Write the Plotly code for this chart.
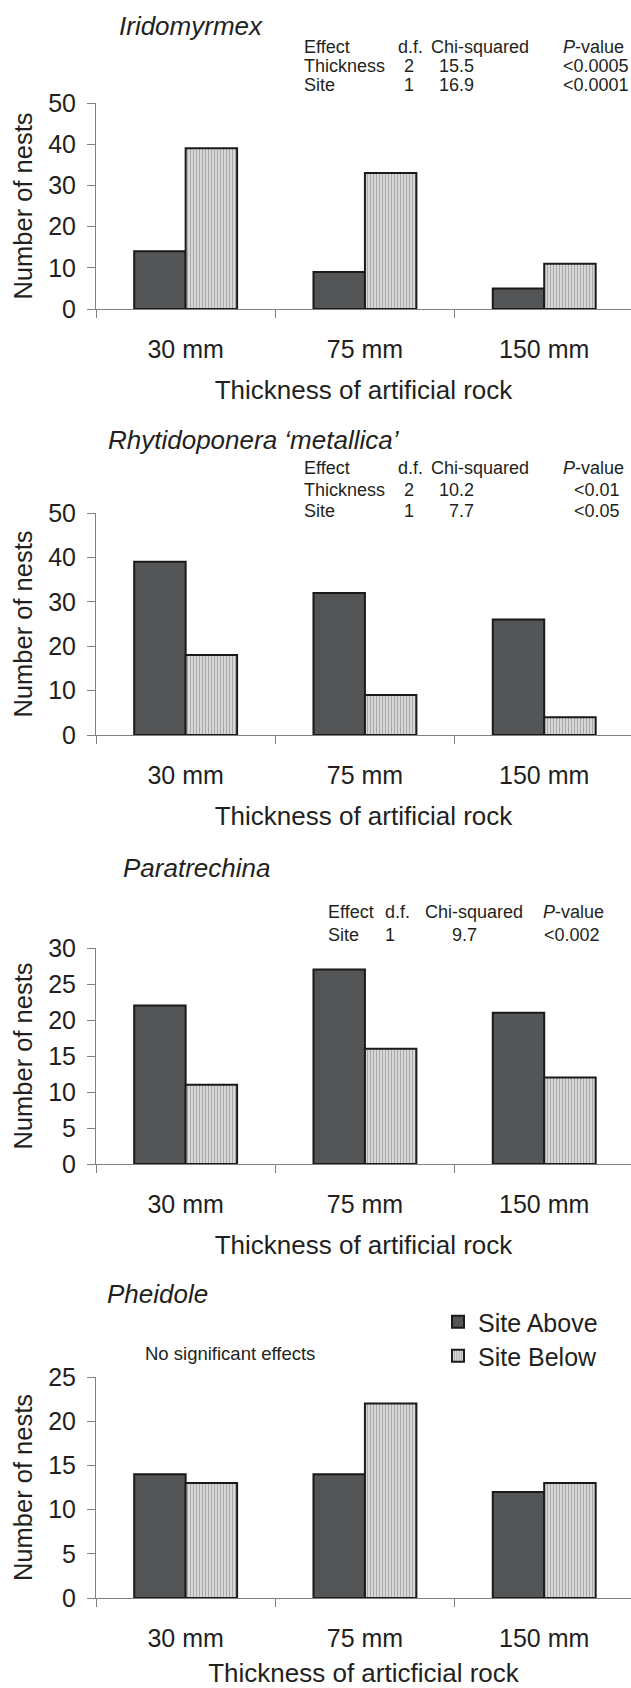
import plotly.graph_objects as go

W, H = 631, 1688

# ---------------- data ----------------
categories = ["30 mm", "75 mm", "150 mm"]

iridomyrmex_above = [14, 9, 5]
iridomyrmex_below = [39, 33, 11]
rhytidoponera_above = [39, 32, 26]
rhytidoponera_below = [18, 9, 4]
paratrechina_above = [22, 27, 21]
paratrechina_below = [11, 16, 12]
pheidole_above = [14, 14, 12]
pheidole_below = [13, 22, 13]

species = ["Iridomyrmex", "Rhytidoponera \u2018metallica\u2019", "Paratrechina", "Pheidole"]
y_max = [50, 50, 30, 25]
y_dtick = [10, 10, 5, 5]
x_titles = ["Thickness of artificial rock", "Thickness of artificial rock",
            "Thickness of artificial rock", "Thickness of articficial rock"]
series_names = ["Site Above", "Site Below"]

stats_header = ["Effect", "d.f.", "Chi-squared", "<i>P</i>-value"]
stats_iridomyrmex = [["Thickness", "2", "15.5", "&lt;0.0005"],
                     ["Site", "1", "16.9", "&lt;0.0001"]]
stats_rhytidoponera = [["Thickness", "2", "10.2", "&lt;0.01"],
                       ["Site", "1", "7.7", "&lt;0.05"]]
stats_paratrechina = [["Site", "1", "9.7", "&lt;0.002"]]
no_effects_note = "No significant effects"

panels = [
    (iridomyrmex_above, iridomyrmex_below),
    (rhytidoponera_above, rhytidoponera_below),
    (paratrechina_above, paratrechina_below),
    (pheidole_above, pheidole_below),
]

# ---------------- layout helpers (pixels) ----------------
FONT = "Liberation Sans, Arial, sans-serif"
TXT = "#231f20"
AXC = "#808080"

def px_x(x):
    return x / W

def px_y(y):
    return 1 - y / H

plot_left = 96
plot_tops = [103, 513, 948, 1377]
plot_bottoms = [309, 735, 1164, 1598]
title_pos = [(117, 26), (106, 440), (121, 868), (105, 1294)]

fig = go.Figure()

for i, (above, below) in enumerate(panels):
    ax = "" if i == 0 else str(i + 1)
    fig.add_trace(go.Bar(
        x=categories, y=above, name=series_names[0],
        xaxis="x" + ax, yaxis="y" + ax,
        marker=dict(color="#545557", line=dict(color="#1a1a1a", width=2)),
        showlegend=(i == 3), legend="legend",
    ))
    fig.add_trace(go.Bar(
        x=categories, y=below, name=series_names[1],
        xaxis="x" + ax, yaxis="y" + ax,
        marker=dict(color="#d4d4d4", line=dict(color="#1a1a1a", width=2),
                    pattern=dict(shape="|", size=3, solidity=0.35,
                                 fgcolor="#a9a9a9", bgcolor="#d7d7d7",
                                 fillmode="replace")),
        showlegend=(i == 3), legend="legend2",
    ))
    xa = dict(
        domain=[px_x(plot_left), 1], range=[-0.5, 2.484], type="category",
        tickson="boundaries", ticks="outside", ticklen=8, tickcolor=AXC, tickwidth=1,
        showline=True, linecolor=AXC, linewidth=1, showgrid=False, zeroline=False,
        tickfont=dict(size=25, color=TXT, family=FONT), ticklabelstandoff=18,
        title=dict(text=x_titles[i], font=dict(size=26, color=TXT, family=FONT), standoff=18),
        anchor="y" + ax, automargin=False, fixedrange=True,
    )
    ya = dict(
        domain=[px_y(plot_bottoms[i]), px_y(plot_tops[i])], range=[0, y_max[i]],
        dtick=y_dtick[i], tick0=0, ticks="outside", ticklen=8, tickcolor=AXC, tickwidth=1,
        showline=True, linecolor=AXC, linewidth=1, showgrid=False, zeroline=False,
        tickfont=dict(size=25, color=TXT, family=FONT), ticklabelstandoff=6,
        title=dict(text="Number of nests", font=dict(size=25.5, color=TXT, family=FONT), standoff=8),
        anchor="x" + ax, automargin=False, fixedrange=True,
    )
    fig.update_layout(**{"xaxis" + ax: xa, "yaxis" + ax: ya})

annotations = []

def ann(text, x, y, size=18, xanchor="left", italic=False):
    annotations.append(dict(
        text=f"<i>{text}</i>" if italic else text, x=px_x(x), y=px_y(y),
        xref="paper", yref="paper", xanchor=xanchor, yanchor="middle",
        showarrow=False, font=dict(size=size, color=TXT, family=FONT),
    ))

for (tx, ty), name in zip(title_pos, species):
    ann(name, tx, ty, size=26, italic=True)

# stats table panel 1
rows_y = [47, 66, 85]
ann(stats_header[0], 302, rows_y[0]); ann(stats_header[1], 396, rows_y[0])
ann(stats_header[2], 429, rows_y[0]); ann(stats_header[3], 561, rows_y[0])
for r, row in enumerate(stats_iridomyrmex):
    y = rows_y[r + 1]
    ann(row[0], 302, y); ann(row[1], 409, y, xanchor="center")
    ann(row[2], 476, y, xanchor="right"); ann(row[3], 561, y)

# stats table panel 2
rows_y = [468, 490, 511]
ann(stats_header[0], 302, rows_y[0]); ann(stats_header[1], 396, rows_y[0])
ann(stats_header[2], 429, rows_y[0]); ann(stats_header[3], 561, rows_y[0])
for r, row in enumerate(stats_rhytidoponera):
    y = rows_y[r + 1]
    ann(row[0], 302, y); ann(row[1], 409, y, xanchor="center")
    ann(row[2], 476, y, xanchor="right"); ann(row[3], 622, y, xanchor="right")

# stats table panel 3
rows_y = [912, 935]
ann(stats_header[0], 326, rows_y[0]); ann(stats_header[1], 383, rows_y[0])
ann(stats_header[2], 423, rows_y[0]); ann(stats_header[3], 541, rows_y[0])
for r, row in enumerate(stats_paratrechina):
    y = rows_y[r + 1]
    ann(row[0], 326, y); ann(row[1], 390, y, xanchor="center")
    ann(row[2], 464, y, xanchor="center"); ann(row[3], 602, y, xanchor="right")

# panel 4 note
ann(no_effects_note, 143, 1353, size=18.5)

legend_style = dict(xanchor="left", yanchor="middle",
                    font=dict(size=25, color=TXT, family=FONT), bgcolor="rgba(0,0,0,0)",
                    itemwidth=30, tracegroupgap=0)

fig.update_layout(
    width=W, height=H, margin=dict(l=0, r=0, t=0, b=0),
    template="none", paper_bgcolor="white", plot_bgcolor="white",
    font=dict(family=FONT, color=TXT),
    barmode="group", bargap=0.426, bargroupgap=0,
    annotations=annotations,
    legend=dict(x=px_x(438), y=px_y(1322), **legend_style),
    legend2=dict(x=px_x(438), y=px_y(1356), **legend_style),
)

fig.write_html("out.html")
